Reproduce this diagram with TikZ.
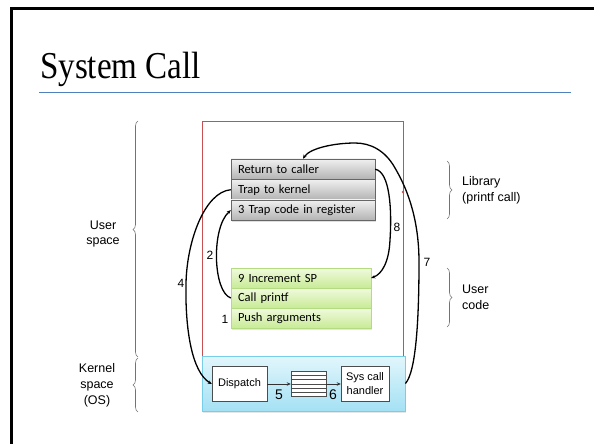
\documentclass[tikz,border=0pt]{standalone}
\usepackage{fontspec}
\setmainfont{Liberation Sans}
\newfontfamily\carl{Carlito}
\newfontfamily\titlefont{Liberation Serif}
\usetikzlibrary{arrows.meta,decorations.pathreplacing,shadows,calc}
\definecolor{redline}{RGB}{200,80,80}
\definecolor{titleblue}{RGB}{79,129,189}
\definecolor{kerntop}{RGB}{226,246,252}
\definecolor{kernbot}{RGB}{164,225,244}
\definecolor{kernedge}{RGB}{120,205,232}
\definecolor{greentop}{RGB}{240,250,222}
\definecolor{greenbot}{RGB}{200,235,150}
\definecolor{greenedge}{RGB}{180,218,130}
\begin{document}
\begin{tikzpicture}[x=1pt,y=-1pt,
  grayrow/.style={draw=black!60, top color=black!6, bottom color=black!30,
    minimum width=144pt, minimum height=20.5pt, text width=130pt, align=left,
    inner xsep=7pt, inner ysep=0pt, font=\carl\fontsize{12.5}{14}\selectfont,
    drop shadow={opacity=0.25, shadow xshift=1pt, shadow yshift=-1.5pt}},
  greenrow/.style={draw=greenedge, top color=greentop, bottom color=greenbot,
    minimum width=140pt, minimum height=20pt, text width=126pt, align=left,
    inner xsep=7pt, inner ysep=0pt, font=\carl\fontsize{12.5}{14}\selectfont,
    drop shadow={opacity=0.2, shadow xshift=1pt, shadow yshift=-1.5pt}},
  kbox/.style={draw=black!70, fill=white, inner sep=0pt, align=center,
    font=\fontsize{11}{14}\selectfont},
  flow/.style={draw=black, line width=1.3pt, -{Stealth[length=4pt,width=3.5pt]}},
  small arrow/.style={draw=black!80, line width=0.8pt, -{Stealth[length=4pt,width=3.5pt]}},
  numlabel/.style={font=\fontsize{12}{14}\selectfont, inner sep=0pt},
  biglabel/.style={font=\fontsize{14}{16}\selectfont, inner sep=0pt},
  sidetext/.style={font=\fontsize{12.5}{15}\selectfont, inner sep=0pt},
  bracestyle/.style={draw=black!55, line width=0.6pt,
    decoration={brace, amplitude=5pt}, decorate}
]
\useasboundingbox (0,0) rectangle (594,444);
% frame
\draw[line width=2.8pt] (11.3,444) -- (11.3,8.3) -- (594,8.3);
% title
\node[anchor=base west, font=\titlefont\fontsize{38}{40}\selectfont, xscale=0.87, inner sep=0pt] (title) at (40,78) {System Call};
\draw[titleblue, line width=1pt] (39,92) -- (571,92);
% library region (red)
\node[draw=redline, line width=1pt, minimum width=201pt, minimum height=235pt, inner sep=0pt] (libreg) at (302.5,238.5) {};
% kernel box
\node[draw=kernedge, line width=0.8pt, top color=kerntop, bottom color=kernbot, minimum width=203pt, minimum height=55pt, inner sep=0pt,
  drop shadow={opacity=0.2, shadow xshift=1pt, shadow yshift=-1.5pt}] (kern) at (303.5,383.5) {};
% red crossing marks
\fill[redline] (202,216) circle (1.4pt);
\fill[redline] (403,192) circle (1.4pt);
% gray library rows
\node[grayrow] (r1) at (303,169.2) {Return to caller};
\node[grayrow] (r2) at (303,189.7) {Trap to kernel};
\node[grayrow] (r3) at (303,210.2) {3 Trap code in register};
% green user rows
\node[greenrow] (g1) at (301,278) {9 Increment SP};
\node[greenrow] (g2) at (301,298) {Call printf};
\node[greenrow] (g3) at (301,318) {Push arguments};
% kernel contents
\node[kbox, minimum width=55pt, minimum height=35pt] (disp) at (239.5,384) {Dispatch};
\node[kbox, minimum width=35pt, minimum height=25pt] (queue) at (308.5,384) {};
\foreach \i in {1,...,5} {
  \draw[black!70, line width=0.6pt] ($(queue.north west)!\i/6!(queue.south west)$) -- ($(queue.north east)!\i/6!(queue.south east)$);
}
\node[kbox, minimum width=48pt, minimum height=35pt] (hand) at (365,384) {Sys call\\handler};
\draw[small arrow] (disp.east) -- (queue.west);
\draw[small arrow] (queue.east) -- (hand.west);
% flow curves
\draw[flow] (g2.west) .. controls (213,292) and (211,228) .. (r3.west);
\draw[flow] (r2.west) .. controls (205,192) and (187,240) .. (186,283) .. controls (185,330) and (192,372) .. (disp.west);
\draw[flow] (kern.east) .. controls (416,372) and (419,320) .. (419,262) .. controls (419,215) and (405,185) .. (395,168) .. controls (385,150) and (370,143) .. (355,143) .. controls (335,143) and (310,148) .. (r1.north);
\draw[flow] (r1.east) .. controls (390,172) and (392,210) .. (390,240) .. controls (389,262) and (382,274) .. (g1.east);
% numbers
\node[numlabel] (n1) at (225,319) {1};
\node[numlabel] (n2) at (210,255) {2};
\node[numlabel] (n4) at (181,283) {4};
\node[biglabel] (n5) at (279,395) {5};
\node[biglabel] (n6) at (333,395) {6};
\node[numlabel] (n7) at (427,262) {7};
\node[numlabel] (n8) at (397,227) {8};
% braces
\draw[bracestyle, decoration={aspect=0.54}] (138,357) -- (138,121);
\draw[bracestyle] (138,412) -- (138,358);
\draw[bracestyle] (447,161) -- (447,219);
\draw[bracestyle] (447,268) -- (447,327);
\node[sidetext, align=center] (us) at (103,234) {User\\space};
\node[sidetext, align=center, font=\fontsize{12.5}{16}\selectfont] (ks) at (97,385) {Kernel\\space\\(OS)};
\node[sidetext, align=left, anchor=west, font=\fontsize{12.5}{16}\selectfont] (lib) at (462,190) {Library\\(printf call)};
\node[sidetext, align=left, anchor=west, font=\fontsize{12.5}{16}\selectfont] (uc) at (462,297) {User\\code};
\end{tikzpicture}
\end{document}
